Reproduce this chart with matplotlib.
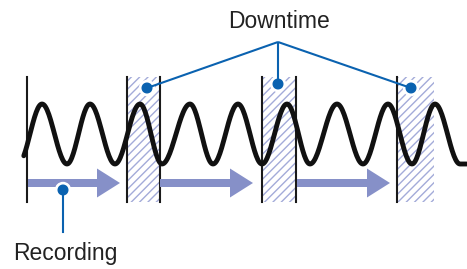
import numpy as np
import matplotlib
matplotlib.use("Agg")
import matplotlib.pyplot as plt
from matplotlib.patches import Rectangle, FancyArrow, Circle

plt.rcParams['font.family'] = ['Liberation Sans', 'DejaVu Sans']
plt.rcParams['hatch.linewidth'] = 1.0

W, H = 467, 269

# wave turning points (pixel x)
peaks_x = [42, 90, 140, 190, 238, 287, 337, 388, 435]
troughs_x = [18, 67, 115, 162, 213, 262, 310, 363, 412, 460, 484]
peak_y, trough_y = 104, 164
wave_start, wave_end = 23, 467

# downtime boxes (left, right) and the black frame lines
boxes = [(127, 160), (262, 296), (397, 434)]
box_lines = [127, 160, 262, 296, 397]
start_line = 26.5
box_top, box_bottom = 77, 202

# recording arrows (start, tip)
arrows = [(28, 120), (160, 253), (297, 390)]
arrow_y = 183

# callouts
downtime_hub = (278, 42)
downtime_dots = [(147, 88), (278, 84), (411, 88)]
recording_dot = (63, 190)
recording_end = 232

BLUE = '#0a62b0'
ARROW = '#8690c8'
HATCH = '#a3abd9'

fig = plt.figure(figsize=(W / 100, H / 100), dpi=100)
ax = fig.add_axes([0, 0, 1, 1])
ax.set_xlim(0, W)
ax.set_ylim(H, 0)
ax.axis('off')

# hatched downtime boxes
for x0, x1 in boxes:
    ax.add_patch(Rectangle((x0, box_top), x1 - x0, box_bottom - box_top,
                           facecolor='white', edgecolor=HATCH, linewidth=0,
                           hatch='////', zorder=1))

# black frame lines
for x in [start_line] + box_lines:
    ax.plot([x, x], [box_top, box_bottom], color='#1a1a1a', lw=1.5, zorder=2)

# wave: cosine easing between turning points
pts = sorted([(x, peak_y) for x in peaks_x] + [(x, trough_y) for x in troughs_x])
wx, wy = [], []
for (xa, ya), (xb, yb) in zip(pts[:-1], pts[1:]):
    t = np.linspace(0, 1, 30)
    wx.append(xa + (xb - xa) * t)
    wy.append(ya + (yb - ya) * (1 - np.cos(np.pi * t)) / 2)
wx = np.concatenate(wx)
wy = np.concatenate(wy)
m = (wx >= wave_start) & (wx <= wave_end)
ax.plot(wx[m], wy[m], color='#111111', lw=3.5, solid_capstyle='round', zorder=3)

# recording arrows
for x0, x1 in arrows:
    ax.add_patch(FancyArrow(x0, arrow_y, x1 - x0, 0, width=8, head_width=29,
                            head_length=23, length_includes_head=True,
                            color=ARROW, linewidth=0, zorder=2))


def callout_dot(x, y):
    ax.add_patch(Circle((x, y), 7.5, color='white', zorder=5))
    ax.add_patch(Circle((x, y), 4.8, color=BLUE, zorder=7))


# downtime callout
for dx, dy in downtime_dots:
    callout_dot(dx, dy)
    ax.plot([downtime_hub[0], dx], [downtime_hub[1], dy], color=BLUE, lw=1.5,
            zorder=6, solid_capstyle='butt')
ax.text(279, 28, 'Downtime', fontsize=16.5, color='#222222',
        ha='center', va='baseline')

# recording callout
callout_dot(*recording_dot)
ax.plot([recording_dot[0], recording_dot[0]], [recording_dot[1], recording_end],
        color=BLUE, lw=1.5, zorder=6)
ax.text(65, 260, 'Recording', fontsize=16.5, color='#222222',
        ha='center', va='baseline')

fig.savefig('out.png', dpi=100)
